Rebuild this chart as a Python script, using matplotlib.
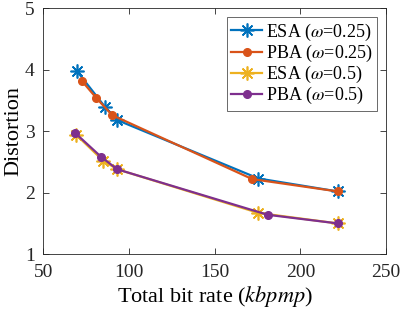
import matplotlib.pyplot as plt

plt.rcParams['font.family'] = ['Liberation Serif', 'DejaVu Serif']
plt.rcParams['mathtext.fontset'] = 'stix'

# data
esa25_x = [69.9, 86.2, 93.2, 175.6, 221.7]
esa25_y = [3.97, 3.39, 3.18, 2.23, 2.02]
pba25_x = [72.8, 81.0, 90.3, 172.0, 221.7]
pba25_y = [3.81, 3.54, 3.26, 2.22, 2.02]
esa50_x = [69.3, 85.0, 93.2, 175.6, 221.7]
esa50_y = [2.94, 2.52, 2.38, 1.67, 1.50]
pba50_x = [68.7, 83.9, 93.2, 181.0, 221.7]
pba50_y = [2.97, 2.58, 2.38, 1.64, 1.50]

series = [
    (esa25_x, esa25_y, '#0072BD', 'ast', r'ESA ($\omega$=0.25)'),
    (pba25_x, pba25_y, '#D95319', 'o', r'PBA ($\omega$=0.25)'),
    (esa50_x, esa50_y, '#EDB120', 'ast', r'ESA ($\omega$=0.5)'),
    (pba50_x, pba50_y, '#7E2F8E', 'o', r'PBA ($\omega$=0.5)'),
]

fig = plt.figure(figsize=(4.03, 3.13), dpi=100)
ax = fig.add_axes([0.107, 0.188, 0.851, 0.786])

for x, y, c, m, lab in series:
    if m == 'ast':
        ax.plot(x, y, color=c, lw=1.6, marker=(8, 2, 0), markersize=10,
                markeredgewidth=1.2, label=lab)
    else:
        ax.plot(x, y, color=c, lw=1.6, marker='o', markersize=5.5,
                label=lab)

ax.set_xlim(50, 250)
ax.set_ylim(1, 5)
ax.set_xticks([50, 100, 150, 200, 250])
ax.set_yticks([1, 2, 3, 4, 5])
ax.tick_params(direction='in', top=True, right=True, labelsize=14,
               length=4, width=0.6, colors='#262626')
ax.tick_params(axis='x', pad=7)
ax.tick_params(axis='y', pad=6)
for s in ax.spines.values():
    s.set_linewidth(0.6)
    s.set_color('#262626')

ax.set_xlabel(r'Total bit rate ($kbpmp$)', fontsize=16, labelpad=2)
ax.set_ylabel('Distortion', fontsize=16, labelpad=1)

leg = ax.legend(loc='upper right', fontsize=13, frameon=True, fancybox=False,
                edgecolor='#262626', borderpad=0.25, labelspacing=0.0,
                handlelength=1.7, handletextpad=0.2, borderaxespad=0.5)
leg.get_frame().set_linewidth(0.6)

fig.savefig('out.png', dpi=100)
